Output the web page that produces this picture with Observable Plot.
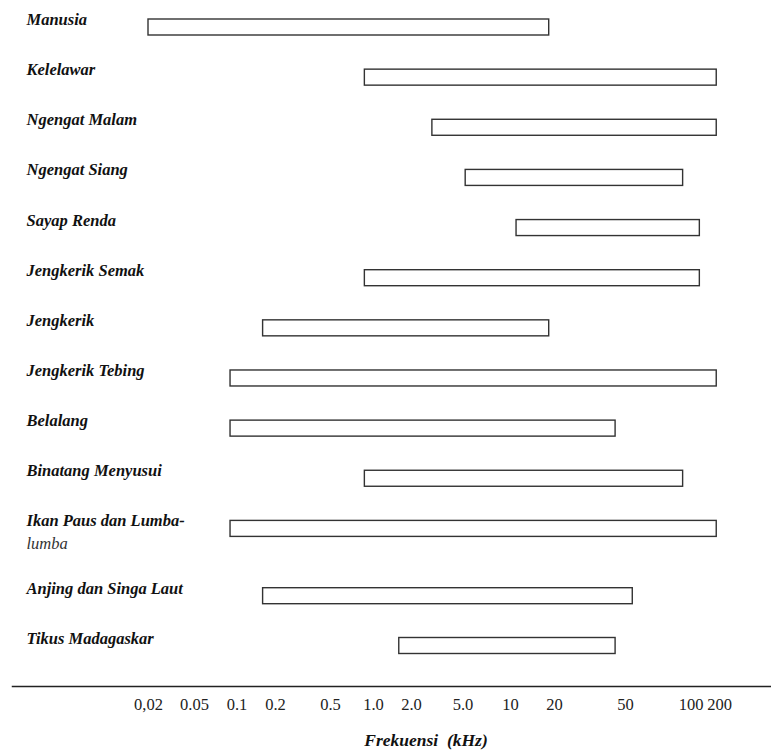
<!DOCTYPE html>
<html>
<head>
<meta charset="utf-8">
<script src="https://cdn.jsdelivr.net/npm/d3@7"></script>
<script src="https://cdn.jsdelivr.net/npm/@observablehq/plot@0.6"></script>
<style>
  html, body { margin: 0; padding: 0; background: #fff; }
  svg text { font-family: "Liberation Serif", "Times New Roman", serif; }
</style>
</head>
<body>
<div id="chart"></div>
<script>
// Animal names (top to bottom); "\n" marks the line break of the original label
const animals = [
  "Manusia",
  "Kelelawar",
  "Ngengat Malam",
  "Ngengat Siang",
  "Sayap Renda",
  "Jengkerik Semak",
  "Jengkerik",
  "Jengkerik Tebing",
  "Belalang",
  "Binatang Menyusui",
  "Ikan Paus dan Lumba-\nlumba",
  "Anjing dan Singa Laut",
  "Tikus Madagaskar"
];
// Hearing range, kHz
const lowKHz  = [0.02, 0.87, 2.9, 5.2, 11, 0.87, 0.16, 0.09, 0.09, 0.87, 0.09, 0.16, 1.6];
const highKHz = [18.4, 187, 187, 92, 124, 124, 18.4, 187, 44, 92, 187, 54, 44];

// Axis ticks and their labels as printed
const tickValues = [0.02, 0.05, 0.1, 0.2, 0.5, 1, 2, 5, 10, 20, 50, 100, 200];
const tickLabels = ["0,02", "0.05", "0.1", "0.2", "0.5", "1.0", "2.0", "5.0", "10", "20", "50", "100", "200"];
const axisTitle = "Frekuensi\u00a0 (kHz)";

const rows = animals.map((name, i) => ({
  i,
  line1: name.split("\n")[0],
  line2: name.split("\n")[1] || "",
  lo: lowKHz[i],
  hi: highKHz[i]
}));
const ticks = tickValues.map((v, k) => ({ v, label: tickLabels[k] }));

const serif = "Liberation Serif";

// Uneven printed axis: piecewise log scale through the printed tick positions
const xRange = [148, 194, 236.5, 275, 330, 373, 411, 462.5, 510, 554, 625, 690.5, 719];

const chart = Plot.plot({
  width: 771,
  height: 753,
  marginTop: 0,
  marginLeft: 12,
  marginRight: 0,
  marginBottom: 67,
  style: { fontFamily: serif, background: "#fff", color: "#222" },
  x: { type: "log", domain: tickValues, range: xRange, axis: null },
  y: { type: "linear", domain: [0, 10, 11, 12], range: [27, 528.4, 595.7, 645.5], axis: null },
  marks: [
    Plot.frame({ anchor: "bottom", stroke: "#222", strokeWidth: 1.5 }),
    // tick labels
    Plot.text(ticks, {
      x: "v", text: "label", frameAnchor: "bottom", dy: 11.5,
      textAnchor: "middle", lineAnchor: "top",
      fontSize: 16.5, fontFamily: serif, fill: "#222"
    }),
    Plot.rect(rows, {
      x1: "lo", x2: "hi", y1: "i", y2: "i",
      insetTop: -8, insetBottom: -8,
      fill: "#fff", stroke: "#333", strokeWidth: 1.4
    }),
    Plot.text(rows, {
      y: "i", text: "line1", frameAnchor: "left", dx: 14, dy: -2.5,
      textAnchor: "start", lineAnchor: "bottom",
      fontSize: 16.5, fontWeight: "bold", fontStyle: "italic", fontFamily: serif, fill: "#111"
    }),
    Plot.text(rows.filter(d => d.line2), {
      y: "i", text: "line2", frameAnchor: "left", dx: 14, dy: 19.7,
      textAnchor: "start", lineAnchor: "bottom",
      fontSize: 16.5, fontStyle: "italic", fontFamily: serif, fill: "#333"
    }),
    Plot.text([axisTitle], {
      frameAnchor: "bottom", dx: 34, dy: 59,
      textAnchor: "middle", lineAnchor: "bottom",
      fontSize: 17.5, fontWeight: "bold", fontStyle: "italic", fontFamily: serif, fill: "#111"
    })
  ]
});
document.getElementById("chart").appendChild(chart);
</script>
</body>
</html>
